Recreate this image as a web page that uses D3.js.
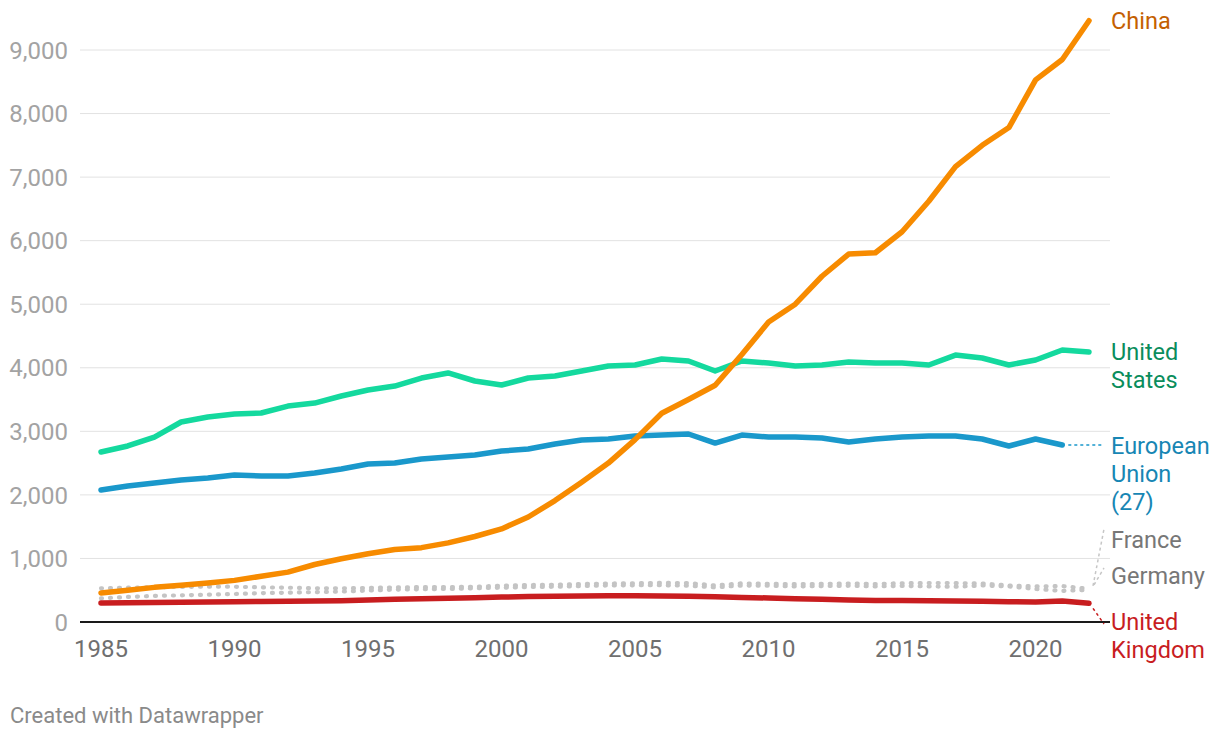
<!DOCTYPE html>
<html>
<head>
<meta charset="utf-8">
<script src="https://cdn.jsdelivr.net/npm/d3@7"></script>
<style>
  html, body { margin: 0; padding: 0; background: #fff; }
  svg { display: block; font-family: Roboto, "Noto Sans", sans-serif; }
</style>
</head>
<body>
<svg id="chart" width="1220" height="738"></svg>
<script>
// ---- data ----
const years = d3.range(1985, 2023);
const china = [456, 500, 545, 580, 615, 655, 720, 785, 905, 995, 1075, 1140, 1170, 1245, 1345, 1465, 1652, 1910, 2200, 2500,
  2870, 3285, 3500, 3725, 4210, 4720, 5000, 5440, 5790, 5810, 6140, 6620, 7165, 7500, 7780, 8530, 8850, 9460];
const unitedStates = [2675, 2770, 2910, 3147, 3225, 3272, 3288, 3398, 3445, 3556, 3650, 3713, 3839, 3918, 3792, 3729, 3839, 3870, 3949, 4028,
  4044, 4138, 4106, 3949, 4106, 4075, 4028, 4044, 4091, 4075, 4075, 4044, 4200, 4154, 4044, 4122, 4280, 4248];
const europeanUnion = [2077, 2140, 2187, 2234, 2266, 2313, 2297, 2297, 2344, 2407, 2486, 2502, 2564, 2596, 2627, 2690, 2722, 2800, 2864, 2879,
  2926, 2942, 2958, 2816, 2942, 2910, 2910, 2895, 2832, 2879, 2910, 2926, 2926, 2879, 2769, 2879, 2785, null];
const unitedKingdom = [300, 303, 306, 310, 314, 318, 322, 326, 330, 335, 345, 358, 365, 375, 383, 392, 400, 405, 410, 412,
  413, 410, 405, 398, 385, 378, 365, 356, 346, 340, 338, 336, 332, 328, 320, 315, 332, 294];
const germany = [530, 540, 548, 552, 556, 555, 545, 540, 530, 530, 535, 545, 548, 550, 555, 570, 582, 585, 598, 605,
  610, 615, 612, 575, 608, 600, 595, 600, 605, 598, 610, 612, 612, 605, 575, 560, 565, 522];
const france = [373, 395, 410, 420, 430, 440, 455, 461, 470, 478, 495, 510, 515, 520, 530, 540, 550, 555, 565, 575,
  578, 578, 572, 545, 575, 570, 560, 565, 570, 560, 568, 560, 555, 575, 560, 520, 490, 505];
const yTicks = [0, 1000, 2000, 3000, 4000, 5000, 6000, 7000, 8000, 9000];
const xTicks = [1985, 1990, 1995, 2000, 2005, 2010, 2015, 2020];

// ---- layout ----
const svg = d3.select("#chart");
const x = d3.scaleLinear().domain([1985, 2022]).range([101, 1089]);
const y = d3.scaleLinear().domain([0, 9000]).range([622, 50]);
const gridX0 = 80, gridX1 = 1110;

// gridlines
svg.append("g").selectAll("line").data(yTicks.filter(d => d > 0)).join("line")
  .attr("x1", gridX0).attr("x2", gridX1)
  .attr("y1", d => y(d)).attr("y2", d => y(d))
  .attr("stroke", "#e2e2e2").attr("stroke-width", 1);

// y labels
svg.append("g").selectAll("text").data(yTicks).join("text")
  .attr("x", 68).attr("y", d => y(d)).attr("dy", "0.36em")
  .attr("text-anchor", "end").attr("font-size", 24).attr("fill", "#a3a3a3")
  .text(d => d3.format(",")(d));

// x labels
svg.append("g").selectAll("text").data(xTicks).join("text")
  .attr("x", d => x(d)).attr("y", 648).attr("dy", "0.36em")
  .attr("text-anchor", "middle").attr("font-size", 24).attr("fill", "#6f6f6f")
  .text(d => d);

const line = d3.line().defined(d => d[1] != null).x(d => x(d[0])).y(d => y(d[1]));
const pts = arr => years.map((yr, i) => [yr, arr[i]]);

// dotted grey lines
[germany, france].forEach(arr => {
  svg.append("path").datum(pts(arr)).attr("d", line)
    .attr("fill", "none").attr("stroke", "#c4c4c4").attr("stroke-width", 4.2)
    .attr("stroke-linecap", "round").attr("stroke-dasharray", "1,8");
});

// baseline
svg.append("line").attr("x1", gridX0).attr("x2", gridX1)
  .attr("y1", y(0)).attr("y2", y(0)).attr("stroke", "#1a1a1a").attr("stroke-width", 2);

const series = [
  { data: unitedKingdom, color: "#c81d1f", w: 5.5 },
  { data: europeanUnion, color: "#1a98cb", w: 5.5 },
  { data: unitedStates, color: "#14d99e", w: 5.5 },
  { data: china, color: "#f78b00", w: 5.5 }
];
series.forEach(s => {
  svg.append("path").datum(pts(s.data)).attr("d", line)
    .attr("fill", "none").attr("stroke", s.color).attr("stroke-width", s.w)
    .attr("stroke-linecap", "round").attr("stroke-linejoin", "round");
});

// connectors
const last = arr => { for (let i = arr.length - 1; i >= 0; i--) if (arr[i] != null) return [years[i], arr[i]]; };
const euEnd = last(europeanUnion);
svg.append("line").attr("x1", x(euEnd[0]) + 6).attr("x2", 1102)
  .attr("y1", y(euEnd[1])).attr("y2", y(euEnd[1]))
  .attr("stroke", "#1a98cb").attr("stroke-width", 1.5).attr("stroke-dasharray", "3,3");
const frEnd = last(france), deEnd = last(germany), ukEnd = last(unitedKingdom);
svg.append("line").attr("x1", x(frEnd[0]) + 4).attr("y1", y(frEnd[1]) - 4)
  .attr("x2", 1104).attr("y2", 529)
  .attr("stroke", "#c6c6c6").attr("stroke-width", 1.5).attr("stroke-dasharray", "3,3");
svg.append("line").attr("x1", x(deEnd[0]) + 5).attr("y1", y(deEnd[1]) - 4)
  .attr("x2", 1104).attr("y2", 568)
  .attr("stroke", "#c6c6c6").attr("stroke-width", 1.5).attr("stroke-dasharray", "3,3");
svg.append("line").attr("x1", x(ukEnd[0]) + 4).attr("y1", y(ukEnd[1]) + 5)
  .attr("x2", 1104).attr("y2", 624)
  .attr("stroke", "#c81d1f").attr("stroke-width", 1.5).attr("stroke-dasharray", "3,3");

// right labels
const labels = [
  { lines: ["China"], y: 21, color: "#c46000" },
  { lines: ["United", "States"], y: 352, color: "#0a8d5c" },
  { lines: ["European", "Union", "(27)"], y: 446, color: "#1786b4" },
  { lines: ["France"], y: 540, color: "#777777" },
  { lines: ["Germany"], y: 576, color: "#777777" },
  { lines: ["United", "Kingdom"], y: 622, color: "#c81d1f" }
];
labels.forEach(l => {
  const t = svg.append("text").attr("x", 1111).attr("y", l.y)
    .attr("font-size", 23.5).attr("fill", l.color);
  l.lines.forEach((s, i) => t.append("tspan").attr("x", 1111).attr("dy", i === 0 ? "0.36em" : 28).text(s));
});

// footer
svg.append("text").attr("x", 10).attr("y", 715).attr("dy", "0.36em")
  .attr("font-size", 22).attr("fill", "#8a8a8a").text("Created with Datawrapper");
</script>
</body>
</html>
